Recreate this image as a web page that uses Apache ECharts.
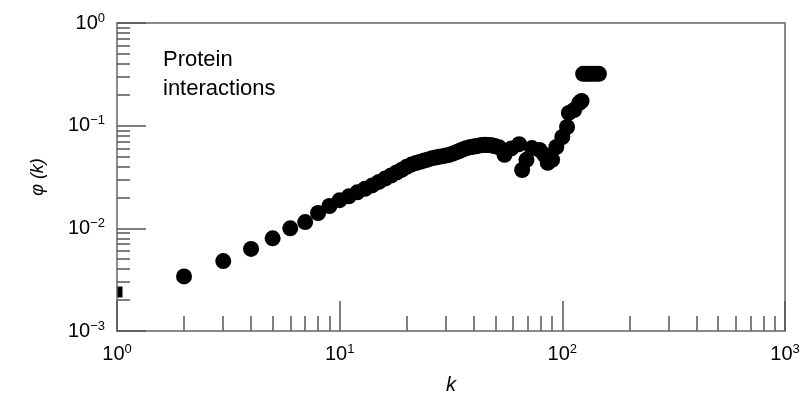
<!DOCTYPE html>
<html><head><meta charset="utf-8">
<script src="https://cdn.jsdelivr.net/npm/echarts@6/dist/echarts.min.js"></script>
<style>html,body{margin:0;padding:0;background:#fff}#c{width:806px;height:400px}</style>
</head><body><div id="c"></div>
<script>
// ---- data ----
const kValues = [2,3,4,5,6,7,8,9,10,11,12,13,14,15,16,17,18,19,20,21,22,23,24,25,26,27,28,29,30,31,32,33,34,35,36,37,38,39,40,41,42,43,44,45,46,47,48,49,50,52,55,59,64,66,69,73,79,83,86,90,94,100,105,107,113,119,122,124,128,132,136,141,146];
const phiValues = [0.0034,0.0048,0.0063,0.0080,0.0100,0.0115,0.0141,0.0165,0.0188,0.0205,0.0224,0.0243,0.0262,0.0283,0.0305,0.0327,0.0350,0.0372,0.0398,0.0418,0.0432,0.0445,0.0457,0.0469,0.0482,0.0490,0.0498,0.0505,0.0512,0.0519,0.0532,0.0546,0.0560,0.0575,0.0590,0.0604,0.0612,0.0619,0.0625,0.0632,0.0638,0.0643,0.0648,0.0650,0.0648,0.0646,0.0643,0.0638,0.0630,0.0615,0.0520,0.0600,0.0660,0.0370,0.0465,0.0605,0.0580,0.0520,0.0435,0.0465,0.0620,0.0775,0.0970,0.1330,0.1420,0.1660,0.1740,0.3200,0.3200,0.3200,0.3200,0.3200,0.3200];
const edgeK = [1];
const edgePhi = [0.0024];
const xMajorTicks = [1,10,100,1000];
const xMinorTicks = [2,3,4,5,6,7,8,9,20,30,40,50,60,70,80,90,200,300,400,500,600,700,800,900];
const yMajorTicks = [0.001,0.01,0.1,1];
const yMinorTicks = [0.002,0.003,0.004,0.005,0.006,0.007,0.008,0.009,0.02,0.03,0.04,0.05,0.06,0.07,0.08,0.09,0.2,0.3,0.4,0.5,0.6,0.7,0.8,0.9];
const noteLines = ['Protein','interactions'];
const xName = 'k';
const yName = 'φ (k)';

// ---- chart ----
const FONT = "'Liberation Sans', Arial, Helvetica, sans-serif";
const AXIS_GRAY = '#8a8a8a';
const TICK = '#555';
function expLabel(v){
  const e = Math.round(Math.log10(v));
  return '{b|10}{s|' + (e < 0 ? '\u2212' + (-e) : e) + '}';
}
const rich = {
  b:{fontSize:20,fontFamily:FONT,color:'#000'},
  s:{fontSize:13,fontFamily:FONT,color:'#000',padding:[0,0,10,0]}
};
const points = kValues.map((k,i)=>[k,phiValues[i]]);
const edgePoints = edgeK.map((k,i)=>[k,edgePhi[i]]);

const chart = echarts.init(document.getElementById('c'), null, {renderer:'canvas'});
chart.setOption({
  animation:false,
  backgroundColor:'#fff',
  grid:{left:117,right:21,top:23,bottom:69,show:true,borderColor:AXIS_GRAY,borderWidth:2,outerBoundsMode:'none'},
  xAxis:[
    {type:'log',logBase:10,min:1,max:1000,position:'bottom',
     axisLine:{show:true,lineStyle:{color:AXIS_GRAY,width:2}},
     axisTick:{show:true,inside:true,length:30,customValues:xMajorTicks,lineStyle:{color:TICK,width:1.5}},
     axisLabel:{show:true,customValues:xMajorTicks,formatter:expLabel,rich:rich,margin:12},
     splitLine:{show:false},minorTick:{show:false},minorSplitLine:{show:false},
     name:xName,nameLocation:'middle',nameGap:44,
     nameTextStyle:{fontSize:20,fontStyle:'italic',fontFamily:FONT,color:'#000'}},
    {type:'log',logBase:10,min:1,max:1000,position:'bottom',
     axisLine:{show:false},
     axisTick:{show:true,inside:true,length:15,customValues:xMinorTicks,lineStyle:{color:TICK,width:1.5}},
     axisLabel:{show:false},splitLine:{show:false}}
  ],
  yAxis:[
    {type:'log',logBase:10,min:0.001,max:1,position:'left',
     axisLine:{show:true,lineStyle:{color:AXIS_GRAY,width:2}},
     axisTick:{show:true,inside:true,length:29,customValues:yMajorTicks,lineStyle:{color:TICK,width:1.5}},
     axisLabel:{show:true,customValues:yMajorTicks,formatter:expLabel,rich:rich,margin:12},
     splitLine:{show:false},minorTick:{show:false},minorSplitLine:{show:false},
     name:yName,nameLocation:'middle',nameGap:70,
     nameTextStyle:{fontSize:18,fontStyle:'italic',fontFamily:FONT,color:'#000'}},
    {type:'log',logBase:10,min:0.001,max:1,position:'left',
     axisLine:{show:false},
     axisTick:{show:true,inside:true,length:13,customValues:yMinorTicks,lineStyle:{color:TICK,width:1.5}},
     axisLabel:{show:false},splitLine:{show:false}}
  ],
  graphic:[
    {type:'text',left:163,top:45,
     style:{text:noteLines.join('\n'),font:"22px 'Liberation Sans', Arial, sans-serif",fill:'#000',lineHeight:29}}
  ],
  series:[
    {type:'scatter',xAxisIndex:0,yAxisIndex:0,data:points,symbol:'circle',symbolSize:16,
     itemStyle:{color:'#000',opacity:1},clip:false,emphasis:{disabled:true}},
    {type:'scatter',xAxisIndex:0,yAxisIndex:0,data:edgePoints,symbol:'rect',symbolSize:[5,11],symbolOffset:[3,0],
     itemStyle:{color:'#000',opacity:1},clip:false,emphasis:{disabled:true}}
  ]
});
</script>
</body></html>
